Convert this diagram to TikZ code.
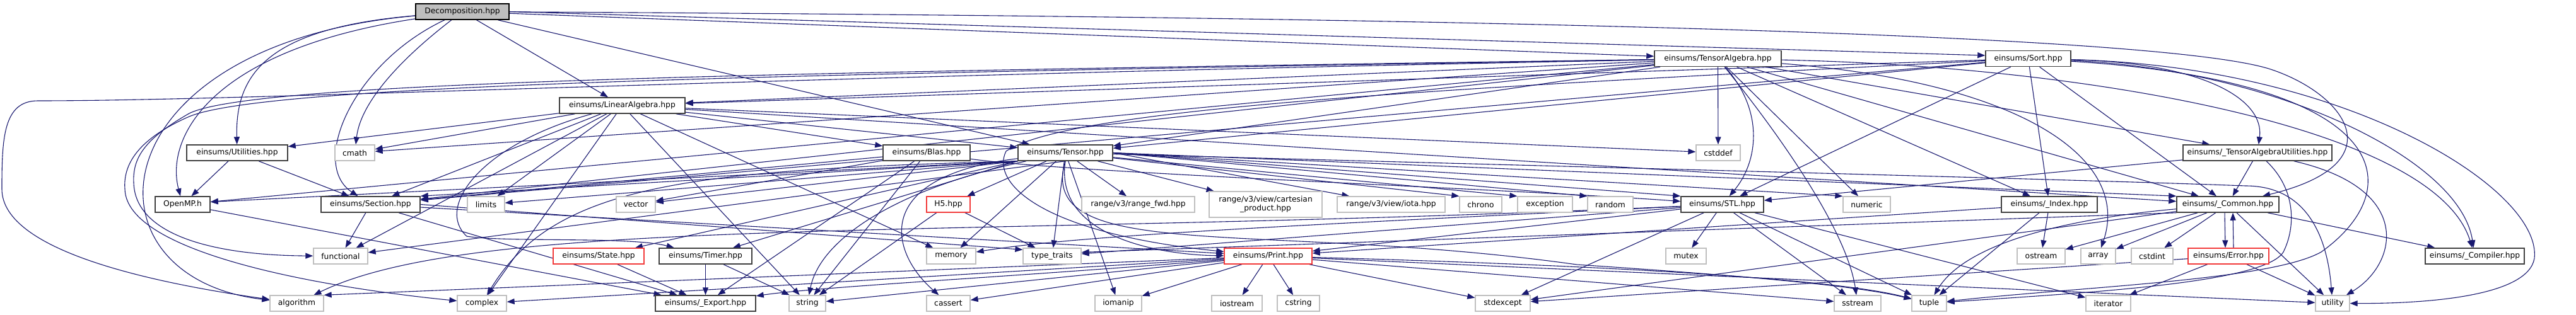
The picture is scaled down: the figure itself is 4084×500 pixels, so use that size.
\documentclass[tikz,border=0pt]{standalone}
\usepackage{fontspec}
\newfontfamily\dvs{DejaVu Sans}
\usetikzlibrary{arrows.meta}
\pgfdeclarelayer{bg}
\pgfsetlayers{bg,main}
\definecolor{edgec}{HTML}{191970}
\definecolor{boxd}{HTML}{404040}
\definecolor{boxl}{HTML}{BFBFBF}
\definecolor{boxr}{HTML}{F23B3B}
\definecolor{rootf}{HTML}{BFBFBF}
\tikzset{
  basebox/.style={rectangle, inner sep=0pt, minimum height=25pt, font=\dvs\fontsize{12.3pt}{14pt}\selectfont, text=black, fill=white},
  docbox/.style={basebox, draw=boxd, line width=1.5pt},
  sysbox/.style={basebox, draw=boxl, line width=1.3pt},
  redbox/.style={basebox, draw=boxr, line width=1.3pt},
  rootbox/.style={basebox, draw=black, line width=1.5pt, fill=rootf},
  edg/.style={draw=edgec, line width=1.1pt, -{Triangle[length=12pt,width=9pt]}},
}
\begin{document}
\begin{tikzpicture}[x=1pt,y=-1pt]
\useasboundingbox (0,0) rectangle (4084,500);
% row 0
\node[rootbox, minimum width=148pt] (dec) at (733,18.5) {Decomposition.hpp};
% row 1
\node[docbox, minimum width=201pt] (ta) at (2723.5,93) {einsums/TensorAlgebra.hpp};
\node[docbox, minimum width=135pt] (sort) at (3215.5,93) {einsums/Sort.hpp};
% row 2
\node[docbox, minimum width=199pt] (la) at (986.5,167.5) {einsums/LinearAlgebra.hpp};
% row 3
\node[docbox, minimum width=160pt] (util) at (376,242.5) {einsums/Utilities.hpp};
\node[sysbox, minimum width=63pt] (cmath) at (562.5,242.5) {cmath};
\node[docbox, minimum width=138pt] (blas) at (1469,242.5) {einsums/Blas.hpp};
\node[docbox, minimum width=150pt] (tensor) at (1689,242.5) {einsums/Tensor.hpp};
\node[sysbox, minimum width=70pt] (cstddef) at (2724,242.5) {cstddef};
\node[docbox, minimum width=236pt] (tau) at (3579,242.5) {einsums/\_TensorAlgebraUtilities.hpp};
% row 4
\node[docbox, minimum width=87pt] (openmp) at (289.5,324.5) {OpenMP.h};
\node[docbox, minimum width=157pt] (section) at (587.5,324.5) {einsums/Section.hpp};
\node[sysbox, minimum width=59pt] (limits) at (770.5,324.5) {limits};
\node[sysbox, minimum width=62pt] (vector) at (1008,324.5) {vector};
\node[redbox, minimum width=69pt] (h5) at (1503.5,324.5) {H5.hpp};
\node[sysbox, minimum width=179pt] (rfwd) at (1804.5,324.5) {range/v3/range\_fwd.hpp};
\node[sysbox, minimum width=179pt, minimum height=41pt, align=center] (cart) at (2006.5,324.5) {range/v3/view/cartesian\\\_product.hpp};
\node[sysbox, minimum width=171pt] (iota) at (2205.5,324.5) {range/v3/view/iota.hpp};
\node[sysbox, minimum width=67pt] (chrono) at (2347.5,324.5) {chrono};
\node[sysbox, minimum width=87pt] (exception) at (2449.5,324.5) {exception};
\node[sysbox, minimum width=72pt] (random) at (2553,324.5) {random};
\node[docbox, minimum width=131pt] (stl) at (2730.5,324.5) {einsums/STL.hpp};
\node[sysbox, minimum width=75pt] (numeric) at (2959.5,324.5) {numeric};
\node[docbox, minimum width=152pt] (index) at (3249,324.5) {einsums/\_Index.hpp};
\node[docbox, minimum width=162pt] (common) at (3532,324.5) {einsums/\_Common.hpp};
% row 5
\node[sysbox, minimum width=86pt] (functional) at (540,406.5) {functional};
\node[redbox, minimum width=144pt] (state) at (949,406.5) {einsums/State.hpp};
\node[docbox, minimum width=147pt] (timer) at (1118.5,406.5) {einsums/Timer.hpp};
\node[sysbox, minimum width=78pt] (memory) at (1508,406.5) {memory};
\node[sysbox, minimum width=92pt] (typetraits) at (1668,406.5) {type\_traits};
\node[redbox, minimum width=139pt] (print) at (2010.5,406.5) {einsums/Print.hpp};
\node[sysbox, minimum width=64pt] (mutex) at (2673,406.5) {mutex};
\node[sysbox, minimum width=76pt] (ostream) at (3236,406.5) {ostream};
\node[sysbox, minimum width=55pt] (array) at (3326.5,406.5) {array};
\node[sysbox, minimum width=66pt] (cstdint) at (3412,406.5) {cstdint};
\node[redbox, minimum width=128pt] (error) at (3533,406.5) {einsums/Error.hpp};
\node[docbox, minimum width=157pt] (compiler) at (3923.5,406.5) {einsums/\_Compiler.hpp};
% row 6
\node[sysbox, minimum width=85pt] (algorithm) at (470.5,481.5) {algorithm};
\node[sysbox, minimum width=78pt] (complex) at (764,481.5) {complex};
\node[docbox, minimum width=159pt] (export) at (1118.5,481.5) {einsums/\_Export.hpp};
\node[sysbox, minimum width=58pt] (string) at (1280,481.5) {string};
\node[sysbox, minimum width=69pt] (cassert) at (1503.5,481.5) {cassert};
\node[sysbox, minimum width=74pt] (iomanip) at (1773,481.5) {iomanip};
\node[sysbox, minimum width=80pt] (iostream) at (1961,481.5) {iostream};
\node[sysbox, minimum width=67pt] (cstring) at (2058.5,481.5) {cstring};
\node[sysbox, minimum width=87pt] (stdexcept) at (2382.5,481.5) {stdexcept};
\node[sysbox, minimum width=74pt] (sstream) at (2945,481.5) {sstream};
\node[sysbox, minimum width=55pt] (tuple) at (3058.5,481.5) {tuple};
\node[sysbox, minimum width=71pt] (iterator) at (3342.5,481.5) {iterator};
\node[sysbox, minimum width=54pt] (utility) at (3698,481.5) {utility};

\begin{pgfonlayer}{bg}
\fill[white] (0,0) rectangle (4084,500);
% Decomposition
\draw[edg] (dec) .. controls (420,45) and (373,120) .. (util);
\draw[edg] (dec) .. controls (330,80) and (262,220) .. (openmp);
\draw[edg] (dec) .. controls (150,70) and (120,440) .. (algorithm);
\draw[edg] (dec) .. controls (640,90) and (572,160) .. (cmath);
\draw[edg] (dec) .. controls (560,100) and (490,260) .. (section);
\draw[edg] (dec) -- (la);
\draw[edg] (dec) -- (tensor);
\draw[edg] (dec) -- (ta);
\draw[edg] (dec.east) -- ([yshift=5pt]sort.west);
\draw[edg] (dec) .. controls (2000,25) and (3400,45) .. (3600,110) .. controls (3720,150) and (3800,260) .. (common);
% TensorAlgebra
\draw[edg] (ta) -- (la);
\draw[edg] (ta) -- (tensor);
\draw[edg] (ta) -- (cmath);
\draw[edg] (ta) -- (section);
\draw[edg] (ta) -- (openmp);
\draw[edg] (ta) .. controls (1200,115) and (400,130) .. (300,180) .. controls (230,220) and (210,250) .. (212,290) .. controls (214,370) and (330,405) .. (functional);
\draw[edg] (ta) .. controls (1200,122) and (400,160) .. (60,160) .. controls (5,160) and (3,220) .. (3,300) .. controls (3,400) and (250,450) .. (algorithm);
\draw[edg] (ta) .. controls (1200,118) and (420,135) .. (300,185) .. controls (220,220) and (195,260) .. (198,300) .. controls (200,400) and (500,455) .. (complex);
\draw[edg] (ta) -- (cstddef);
\draw[edg] (ta) .. controls (2800,180) and (2785,260) .. (stl);
\draw[edg] (ta) -- (numeric);
\draw[edg] (ta) -- (index);
\draw[edg] (ta) -- (tau);
\draw[edg] (ta) -- (common);
\draw[edg] (ta) .. controls (3300,105) and (3860,200) .. (compiler);
\draw[edg] (ta) .. controls (3200,130) and (3380,250) .. (array);
\draw[edg] (ta) .. controls (2850,250) and (2930,380) .. (sstream);
% Sort
\draw[edg] (sort) -- (la);
\draw[edg] (sort) -- (tensor);
\draw[edg] (sort) -- (section);
\draw[edg] (sort) -- (stl);
\draw[edg] (sort) -- (index);
\draw[edg] (sort) -- (common);
\draw[edg] (sort) .. controls (3500,100) and (3590,160) .. (tau);
\draw[edg] (sort) .. controls (3600,110) and (3900,250) .. (compiler);
\draw[edg] (sort) .. controls (3720,105) and (4030,300) .. (4018,410) .. controls (4008,470) and (3850,482) .. (utility);
\draw[edg] (sort) .. controls (3800,130) and (3820,300) .. (3680,400) .. controls (3600,445) and (3300,455) .. (tuple);
\draw[edg] (sort) .. controls (2300,140) and (1700,170) .. (1595,240) .. controls (1570,290) and (1650,370) .. (print);
% LinearAlgebra
\draw[edg] (la) -- (blas);
\draw[edg] (la) -- (tensor);
\draw[edg] (la) -- (util);
\draw[edg] (la) -- (cmath);
\draw[edg] (la) -- (section);
\draw[edg] (la) -- (limits);
\draw[edg] (la) -- (cstddef);
\draw[edg] (la) -- (common);
\draw[edg] (la) -- (functional);
\draw[edg] (la) -- (complex);
\draw[edg] (la) -- (string);
\draw[edg] (la) -- (memory);
\draw[edg] (la) .. controls (760,230) and (690,330) .. (740,375) .. controls (800,385) and (1000,375) .. (timer);
% Utilities, OpenMP, Section
\draw[edg] (util) -- (openmp);
\draw[edg] (util) -- (section);
\draw[edg] (openmp) -- (export);
\draw[edg] (section) -- (functional);
\draw[edg] (section.east) -- ([yshift=-3pt]typetraits.north west);
\draw[edg] (section) -- (print);
\draw[edg] (section) -- (export);
% Blas
\draw[edg] (blas) -- (section);
\draw[edg] (blas) -- (vector);
\draw[edg] (blas) -- (export);
\draw[edg] (blas) -- (string);
\draw[edg] (blas) .. controls (1700,275) and (2400,300) .. (stl);
% Tensor
\draw[edg] (tensor.south west) -- ([yshift=4pt]openmp.east);
\draw[edg] (tensor.south west) -- (section.north east);
\draw[edg] (tensor.south west) -- (limits);
\draw[edg] (tensor.south west) -- (vector);
\draw[edg] (tensor.south west) -- (state);
\draw[edg] (tensor.south west) -- (timer);
\draw[edg] (tensor.south) -- (functional);
\draw[edg] (tensor) -- (h5);
\draw[edg] (tensor) -- (memory);
\draw[edg] (tensor) -- (typetraits);
\draw[edg] (tensor) -- (iomanip);
\draw[edg] (tensor) -- (rfwd);
\draw[edg] (tensor) -- (cart);
\draw[edg] (tensor.east) -- ([xshift=20pt]iota.north west);
\draw[edg] (tensor) -- (chrono.north west);
\draw[edg] (tensor) -- (exception.north west);
\draw[edg] (tensor.east) -- (random.north west);
\draw[edg] (tensor.east) -- (stl.north west);
\draw[edg] (tensor.east) -- (numeric.north west);
\draw[edg] (tensor.east) -- (common.north west);
\draw[edg] (tensor.south) .. controls (1670,380) and (1850,405) .. (print);
\draw[edg] (tensor.south west) .. controls (1100,270) and (880,290) .. (complex);
\draw[edg] (tensor) .. controls (1420,300) and (1300,380) .. (string);
\draw[edg] (tensor) .. controls (1380,280) and (1410,400) .. (cassert);
\draw[edg] (tensor.south) .. controls (1640,420) and (2000,350) .. (2500,420) .. controls (2800,440) and (2950,455) .. (tuple);
\draw[edg] (tensor) .. controls (2500,265) and (3300,285) .. (3560,295) .. controls (3660,295) and (3690,380) .. (utility);
% H5
\draw[edg] (h5) -- (typetraits);
\draw[edg] (h5) -- (string);
% STL
\draw[edg] (stl) -- (mutex);
\draw[edg] (stl) .. controls (1500,380) and (760,340) .. (algorithm);
\draw[edg] (stl) .. controls (2000,360) and (1700,375) .. (memory);
\draw[edg] (stl) -- (typetraits);
\draw[edg] (stl) -- (print);
\draw[edg] (stl) -- (tuple);
\draw[edg] (stl) -- (iterator);
\draw[edg] (stl) -- (sstream);
\draw[edg] (stl) -- (stdexcept);
% Print
\draw[edg] (print) -- (iostream);
\draw[edg] (print) -- (cstring);
\draw[edg] (print) -- (iomanip);
\draw[edg] (print) -- (stdexcept);
\draw[edg] (print) -- (cassert);
\draw[edg] (print) -- (string);
\draw[edg] (print) .. controls (1600,440) and (1300,455) .. (export);
\draw[edg] (print) -- (complex);
\draw[edg] (print) -- (algorithm.north east);
\draw[edg] (print) -- (sstream);
\draw[edg] (print) .. controls (2500,420) and (2900,440) .. (tuple);
\draw[edg] (print) -- (utility);
% Index
\draw[edg] (index) -- (ostream);
\draw[edg] (index) -- (tuple);
\draw[edg] (index) -- (print);
% Common
\draw[edg] (common) -- (ostream);
\draw[edg] (common) -- (array);
\draw[edg] (common) -- (cstdint);
\draw[edg] ([xshift=-5pt]common.south) -- ([xshift=-5pt]error.north);
\draw[edg] (common) -- (compiler);
\draw[edg] (common) -- (utility);
\draw[edg] (common) .. controls (3300,345) and (3120,380) .. (tuple);
\draw[edg] (common) -- (stdexcept);
\draw[edg] (common.south west) -- ([yshift=6pt]typetraits.east);
% Error
\draw[edg] ([xshift=8pt]error.north) -- ([xshift=8pt]common.south);
\draw[edg] (error) -- (iterator);
\draw[edg] (error) -- (utility);
\draw[edg] (error) -- (stdexcept);
% TensorAlgebraUtilities
\draw[edg] (tau) -- (common);
\draw[edg] (tau) -- (stl);
\draw[edg] (tau) .. controls (3640,300) and (3640,360) .. (3620,400) .. controls (3590,450) and (3300,465) .. (tuple);
\draw[edg] (tau) .. controls (3830,300) and (3800,420) .. (utility);
% State, Timer
\draw[edg] (state) -- (export);
\draw[edg] (timer) -- (export);
\draw[edg] (timer) -- (string);
\end{pgfonlayer}
\end{tikzpicture}
\end{document}
